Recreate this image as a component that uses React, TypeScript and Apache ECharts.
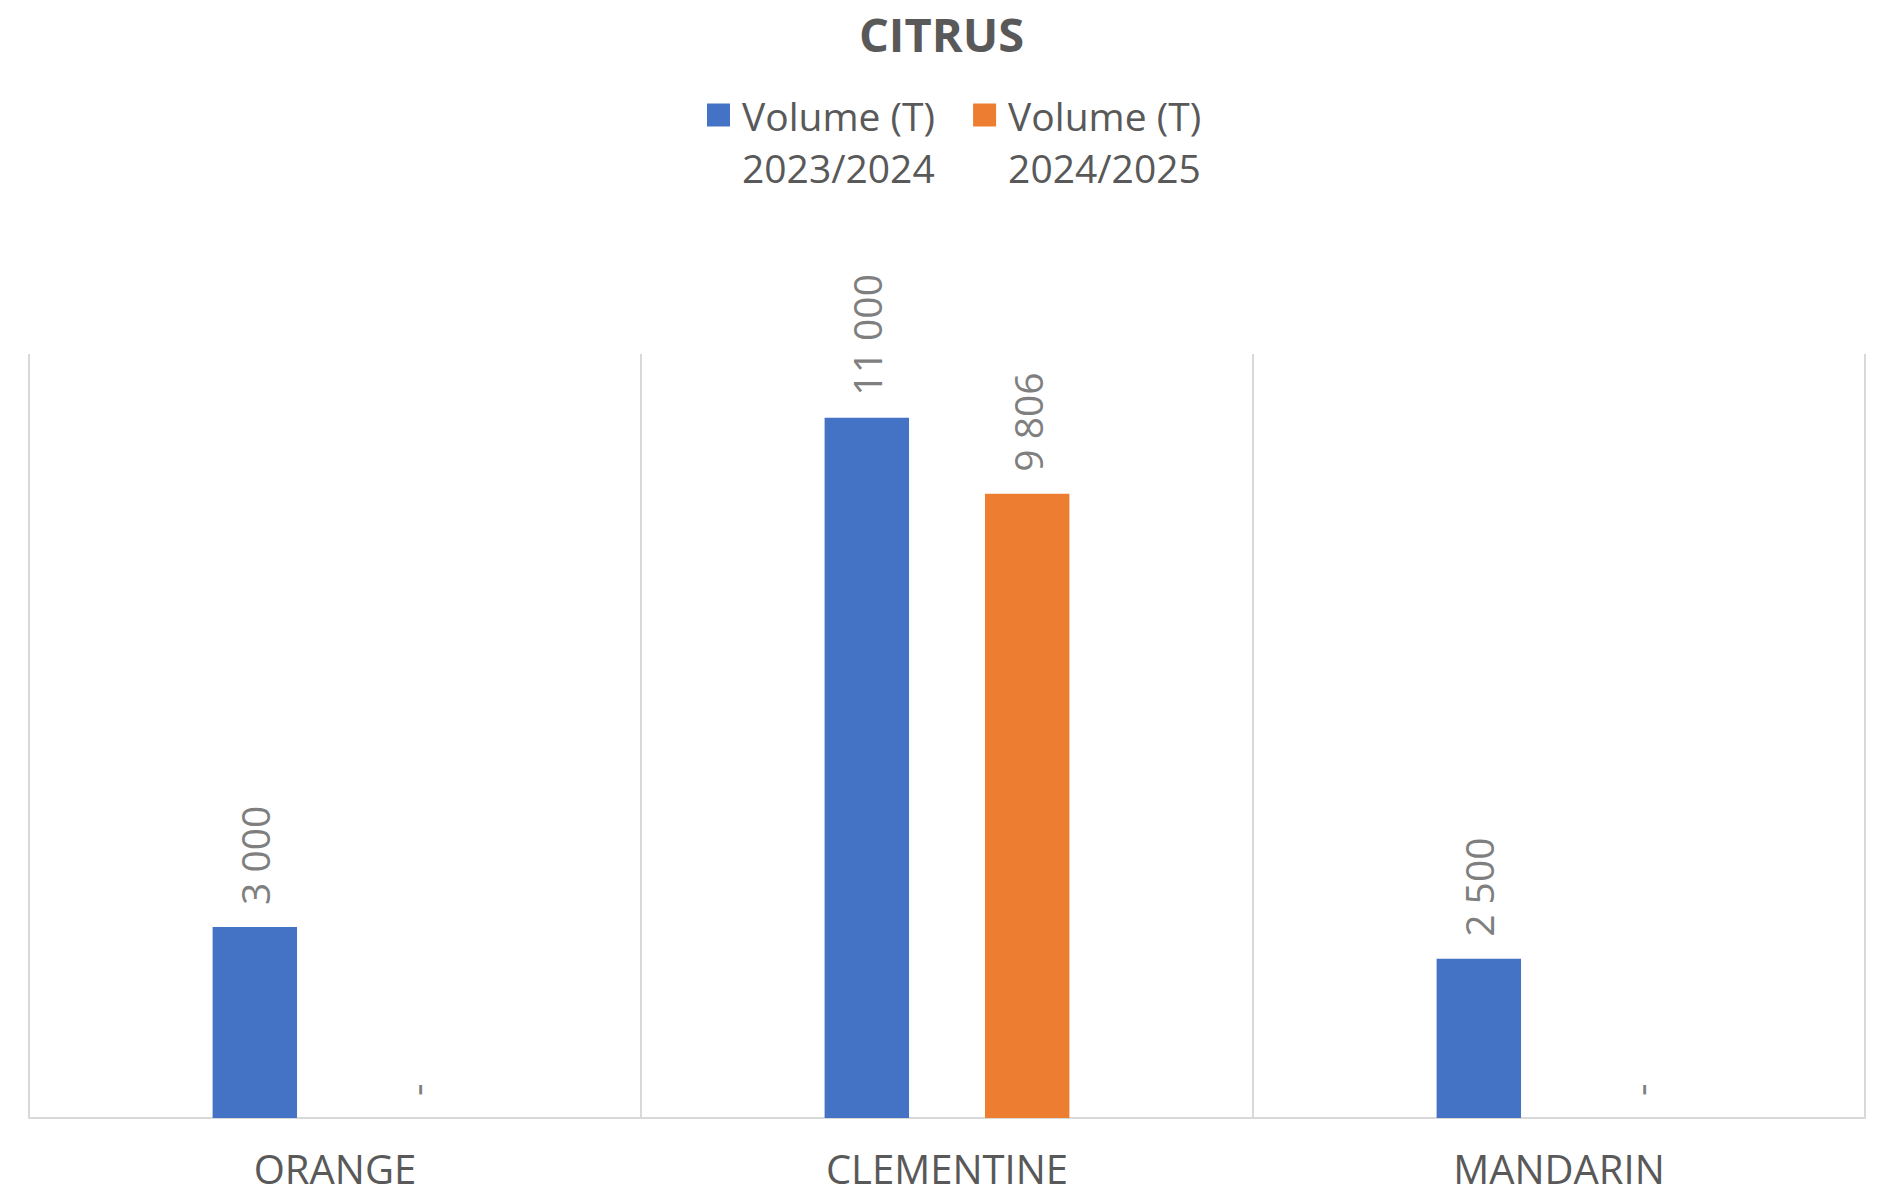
import React, { useEffect, useRef } from "react";
import * as echarts from "echarts";

const categories = ["ORANGE", "CLEMENTINE", "MANDARIN"];
const seriesNames = ["Volume (T)\n2023/2024", "Volume (T)\n2024/2025"];
const volume2023 = [3000, 11000, 2500];
const volume2024 = [0, 9806, 0];
const colors = ["#4472C4", "#ED7D31"];

const fmt = (v: number) =>
  v === 0 ? "-" : String(v).replace(/\B(?=(\d{3})+(?!\d))/g, " ");

export default function App() {
  const ref = useRef<HTMLDivElement>(null);
  useEffect(() => {
    if (!ref.current) return;
    const chart = echarts.init(ref.current, null, { renderer: "svg" });
    const label = {
      show: true,
      position: "top" as const,
      rotate: 90,
      align: "left" as const,
      verticalAlign: "middle" as const,
      distance: 22,
      fontSize: 39,
      color: "#7F7F7F",
      fontFamily: "Open Sans",
      formatter: (p: any) => fmt(p.value),
    };
    chart.setOption({
      animation: false,
      backgroundColor: "#ffffff",
      textStyle: { fontFamily: "Open Sans" },
      title: {
        text: "CITRUS",
        left: "center",
        top: 10,
        padding: 0,
        textStyle: {
          fontSize: 47,
          fontWeight: "bold",
          color: "#595959",
          fontFamily: "Open Sans",
        },
      },
      legend: {
        top: 35,
        left: 707,
        padding: 0,
        itemWidth: 23,
        itemHeight: 23,
        itemGap: 38,
        icon: "rect",
        formatter: (name: string) => "\n" + name,
        textStyle: {
          fontSize: 39,
          color: "#595959",
          lineHeight: 52,
          padding: [0, 0, 4, 7],
          fontFamily: "Open Sans",
        },
        data: seriesNames,
      },
      grid: { left: 29, right: 18, top: 354, bottom: 76, containLabel: false },
      xAxis: {
        type: "category",
        data: categories,
        axisLine: { show: true, lineStyle: { color: "#d9d9d9", width: 2 } },
        axisTick: { show: false },
        splitLine: { show: true, lineStyle: { color: "#d9d9d9", width: 2 } },
        axisLabel: {
          fontSize: 40,
          color: "#595959",
          margin: 30,
          fontFamily: "Open Sans",
        },
      },
      yAxis: { type: "value", min: 0, max: 12000, show: false },
      series: [
        {
          name: seriesNames[0],
          type: "bar",
          data: volume2023,
          itemStyle: { color: colors[0] },
          barGap: "90%",
          barCategoryGap: "60%",
          label,
        },
        {
          name: seriesNames[1],
          type: "bar",
          data: volume2024,
          itemStyle: { color: colors[1] },
          barGap: "90%",
          barCategoryGap: "60%",
          label,
        },
      ],
    });
    return () => chart.dispose();
  }, []);
  return (
    <div
      ref={ref}
      style={{ position: "fixed", left: 0, top: 0, width: 1883, height: 1194 }}
    />
  );
}
